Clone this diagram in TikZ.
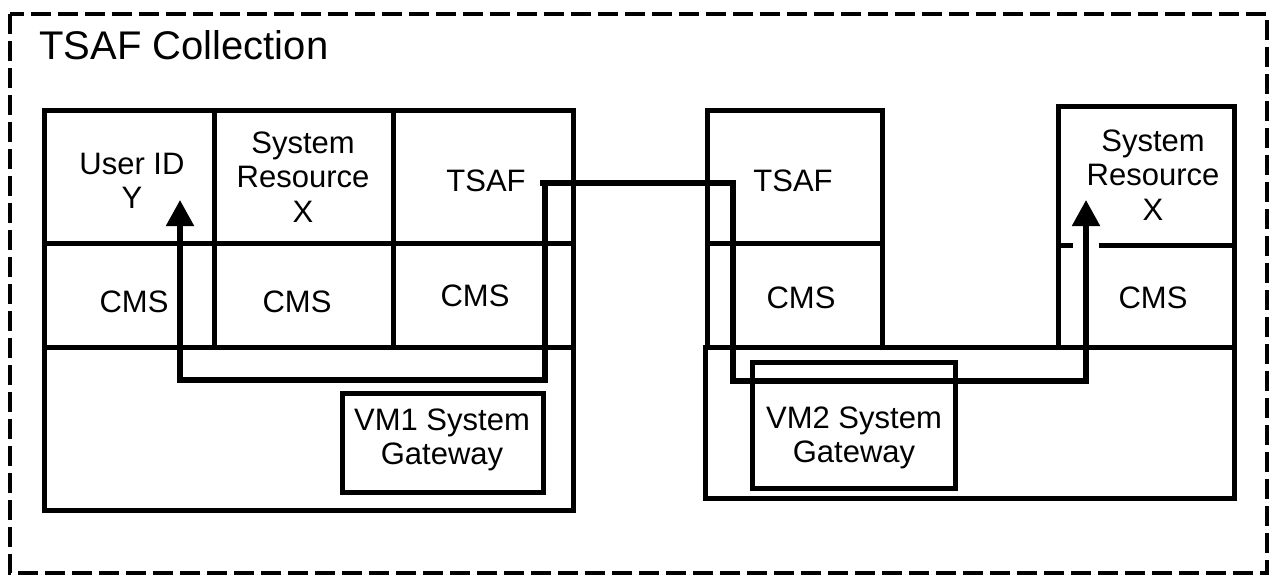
\documentclass[tikz,border=0pt]{standalone}
\usepackage{fontspec}
\setmainfont{Liberation Sans}
\usetikzlibrary{arrows.meta}
\begin{document}
\begin{tikzpicture}[x=0.5pt,y=-0.5pt,
  box/.style={draw,line width=2.5pt,inner sep=0pt,outer sep=0pt},
  txt/.style={inner sep=0pt,align=center,font=\fontsize{15.5}{17.3}\selectfont},
  conn/.style={line width=2.6pt,line join=miter},
  tip/.style={-{Triangle[length=13pt,width=13.5pt]}},
  frame/.style={line width=2.4pt,dash pattern=on 10pt off 3.5pt},
]
\useasboundingbox (0,0) rectangle (1273,574);
% outer dashed frame
\coordinate (fnw) at (10,14);
\coordinate (fse) at (1267,573);
\draw[frame] (fnw) rectangle (fse);
\node[inner sep=0pt,anchor=base west,font=\fontsize{20}{24}\selectfont] (title) at (39,59) {TSAF Collection};

% left system
\node[box,minimum width=264.5pt,minimum height=200pt] (lbox) at (308.5,310) {};
\node[box,minimum width=85pt,minimum height=66.5pt] (uid) at (129,176.5) {};
\node[box,minimum width=89.5pt,minimum height=66.5pt] (sr1) at (303.5,176.5) {};
\node[box,minimum width=90pt,minimum height=66.5pt] (tsaf1) at (483,176.5) {};
\node[box,minimum width=85pt,minimum height=52pt] (cms1) at (129,295) {};
\node[box,minimum width=89.5pt,minimum height=52pt] (cms2) at (303.5,295) {};
\node[box,minimum width=90pt,minimum height=52pt] (cms3) at (483,295) {};
\node[box,minimum width=100.5pt,minimum height=49.5pt] (vm1) at (442.5,442.5) {};

\node[txt] (uidt) at (132,181) {User ID\\Y};
\node[txt] (sr1t) at (303,177) {System\\Resource\\X};
\node[txt] (tsaf1t) at (486,181) {TSAF};
\node[txt] (cms1t) at (134,302) {CMS};
\node[txt] (cms2t) at (297,302) {CMS};
\node[txt] (cms3t) at (475,296) {CMS};
\node[txt] (vm1t) at (442,440) {VM1 System\\Gateway};

% right system
\node[box,minimum width=264.5pt,minimum height=75.5pt] (rbox) at (969.5,422.5) {};
\node[box,minimum width=87.5pt,minimum height=66.5pt] (tsaf2) at (794.5,176.5) {};
\node[box,minimum width=87.5pt,minimum height=52pt] (cms4) at (794.5,295) {};
\node[box,minimum width=88pt,minimum height=69.5pt] (sr2) at (1146,175.5) {};
\node[box,minimum width=88pt,minimum height=51pt] (cms5) at (1146,296) {};
\node[box,minimum width=101.5pt,minimum height=63pt] (vm2) at (853.5,425) {};

\node[txt] (tsaf2t) at (793,181) {TSAF};
\node[txt] (cms4t) at (801,298) {CMS};
\node[txt] (sr2t) at (1153,175) {System\\Resource\\X};
\node[txt] (cms5t) at (1153,298) {CMS};
\node[txt] (vm2t) at (854,438) {VM2 System\\Gateway};

% gap in divider where the arrow passes
\coordinate (gapl) at (1073,245);
\coordinate (gapr) at (1099,245);
\draw[white,line width=3.2pt] (gapl) -- (gapr);

% connectors
\coordinate (s) at (540,183);
\coordinate (sv) at (545,183);
\coordinate (a) at (733,183);
\coordinate (b) at (733,381);
\coordinate (c) at (1086,381);
\coordinate (t2) at (1086,200);
\coordinate (d) at (545,380);
\coordinate (e) at (180,380);
\coordinate (t1) at (180,200);
\draw[conn,tip] (s) -- (a) -- (b) -- (c) -- (t2);
\draw[conn,tip] (sv) -- (d) -- (e) -- (t1);
\end{tikzpicture}
\end{document}
